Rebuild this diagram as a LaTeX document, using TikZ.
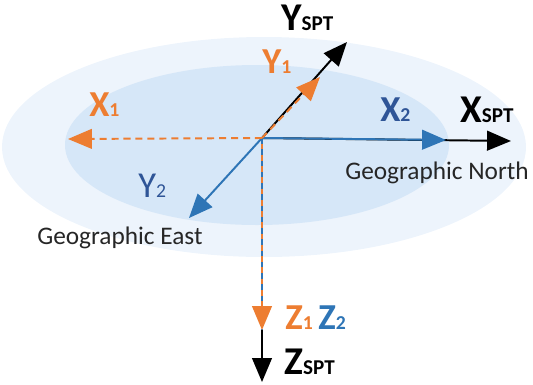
\documentclass[tikz,border=0pt]{standalone}
\usepackage{fontspec}
\setmainfont{Carlito}
\usetikzlibrary{arrows.meta,positioning}

\definecolor{frOrange}{HTML}{ED7D31}
\definecolor{frBlue}{HTML}{2E75B6}
\definecolor{frNavy}{HTML}{2F5597}
\definecolor{skyOut}{HTML}{EDF4FC}
\definecolor{skyIn}{HTML}{D6E7F8}
\definecolor{geoText}{HTML}{262626}

\newcommand{\axSPT}[1]{{\fontsize{28}{28}\selectfont #1}{\fontsize{15}{15}\selectfont SPT}}
\newcommand{\axIdx}[2]{{\fontsize{26}{26}\selectfont #1}{\fontsize{14}{14}\selectfont #2}}

\begin{document}
\begin{tikzpicture}[x=0.025cm,y=-0.025cm,
   axtip/.style={-{Triangle[length=17pt,width=14pt]}},
   spt/.style={axtip,line width=1.4pt,black},
   frtwo/.style={axtip,line width=1.4pt,frBlue},
   frone/.style={axtip,line width=1.4pt,frOrange,dash pattern=on 5pt off 3.5pt},
   lbl/.style={inner sep=0pt,anchor=base west,font=\bfseries},
   geo/.style={inner sep=0pt,anchor=base west,font=\fontsize{18}{18}\selectfont,text=geoText}]
  \useasboundingbox (0,0) rectangle (533,384);
  % horizontal plane
  \fill[skyOut] (264,147) ellipse [x radius=262,y radius=110];
  \fill[skyIn] (257,145) ellipse [x radius=192,y radius=80];
  % axis end points
  \coordinate (o) at (262,138);
  \coordinate (xspt) at (511,141);
  \coordinate (yspt) at (347,42);
  \coordinate (zspt) at (262,382);
  \coordinate (x1) at (68,139);
  \coordinate (y1) at (320,77);
  \coordinate (z1) at (262,330);
  \coordinate (x2) at (446,140);
  \coordinate (y2) at (189,218);
  % SPT frame
  \draw[spt] (o) -- (xspt);
  \draw[spt] (o) -- (yspt);
  \draw[spt] (z1) -- (zspt);
  % frame 2
  \draw[frtwo] (o) -- (x2);
  \draw[frtwo] (o) -- (y2);
  \draw[line width=1.4pt,frBlue,dash pattern=on 4pt off 4pt] (o) -- (z1);
  % frame 1
  \draw[frone] (o) -- (x1);
  \draw[frone] (o) -- (y1);
  \draw[frone,dash pattern=on 4pt off 4pt,dash phase=4pt] (o) -- (z1);
  % labels
  \node[lbl] (lyspt) at (281,30) {\axSPT{Y}};
  \node[lbl] (lxspt) at (460,122) {\axSPT{X}};
  \node[lbl] (lzspt) at (284,374) {\axSPT{Z}};
  \node[lbl,text=frOrange] (ly1) at (262,73) {\axIdx{Y}{1}};
  \node[lbl,text=frOrange] (lx1) at (89,116) {\axIdx{X}{1}};
  \node[lbl,text=frOrange] (lz1) at (285,329) {\axIdx{Z}{1}};
  \node[lbl,text=frNavy] (lx2) at (380,121) {\axIdx{X}{2}};
  \node[lbl,text=frBlue] (lz2) at (318,329) {\axIdx{Z}{2}};
  \node[lbl,font=\mdseries,text=frNavy] (ly2) at (138,197) {\axIdx{Y}{2}};
  \node[geo] (north) at (345,179) {Geographic North};
  \node[geo] (east) at (37,244) {Geographic East};
\end{tikzpicture}
\end{document}
